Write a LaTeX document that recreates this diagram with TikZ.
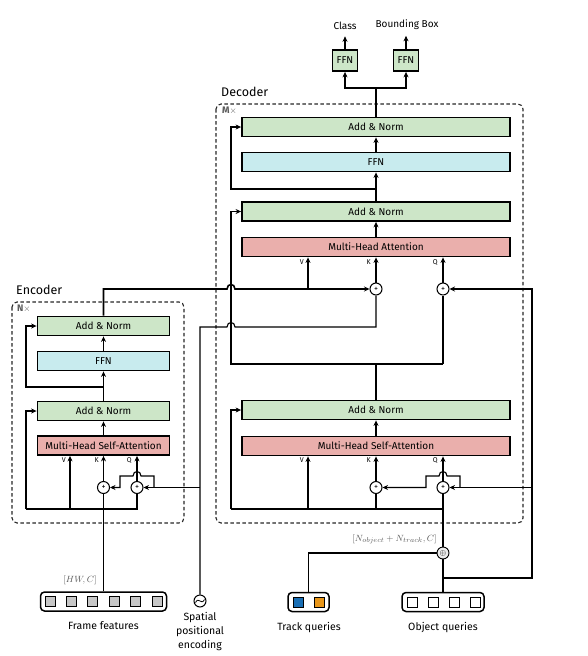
\documentclass[tikz,border=0pt]{standalone}
\usepackage{fontspec}
\setmainfont{Fira Sans}
\usetikzlibrary{arrows.meta,calc}
\definecolor{angreen}{RGB}{205,230,200}
\definecolor{ffncyan}{RGB}{200,235,238}
\definecolor{attred}{RGB}{234,175,172}
\definecolor{qblue}{RGB}{25,110,180}
\definecolor{qorange}{RGB}{232,150,25}
\definecolor{lblgray}{RGB}{90,90,90}
\tikzset{
 blk/.style={draw, line width=1.8pt, minimum height=19pt, inner sep=0pt, font=\fontsize{10}{11}\selectfont},
 an/.style={blk, fill=angreen},
 ffnb/.style={blk, fill=ffncyan},
 att/.style={blk, fill=attred},
 enc/.style={minimum width=132pt},
 dec/.style={minimum width=268pt},
 wire/.style={line width=1.6pt},
 twire/.style={line width=1.1pt},
 arr/.style={wire, -{Stealth[length=5.5pt,width=5pt]}},
 tarr/.style={twire, -{Stealth[length=5.5pt,width=5pt]}},
 pls/.style={circle, draw, line width=1pt, fill=white, minimum size=12pt, inner sep=0pt, font=\fontsize{8}{8}\selectfont},
 vkq/.style={font=\fontsize{7}{7}\selectfont, inner sep=1pt, anchor=east},
 featbox/.style={draw, line width=1.5pt, rounded corners=4pt, fill=white, minimum height=19pt, inner sep=0pt},
 sq/.style={draw, line width=0.8pt, minimum size=10pt, inner sep=0pt},
 lbl/.style={font=\fontsize{10.5}{14}\selectfont, inner sep=1pt, anchor=base},
 title/.style={font=\fontsize{12.5}{14}\selectfont, anchor=base west, inner sep=0pt},
 dbox/.style={draw=black!85, dash pattern=on 3.5pt off 2.5pt, line width=1.1pt, rounded corners=5pt},
 mlbl/.style={text=lblgray, font=\fontsize{9.5}{10}\selectfont, inner sep=0pt},
}
\begin{document}
\begin{tikzpicture}[x=1pt,y=-1pt]
\useasboundingbox (0,0) rectangle (588,656);
% ---------- frames ----------
\draw[dbox] (12,302) rectangle (184,523);
\draw[dbox] (216,104) rectangle (523,523);
\node[title] (enct) at (16,294) {Encoder};
\node[title] (dect) at (221,96) {Decoder};
\node[mlbl, anchor=base west] (nx) at (17,311.5) {$\mathbf{N}\times$};
\node[mlbl, anchor=base west] (mx) at (222,113.5) {$\mathbf{M}\times$};
% ---------- encoder ----------
\node[an, enc] (eAN2) at (103.5,326) {Add \& Norm};
\node[ffnb, enc] (eFFN) at (103.5,361) {FFN};
\node[an, enc] (eAN1) at (103.5,411) {Add \& Norm};
\node[att, enc] (eMHSA) at (103.5,445.5) {Multi-Head Self-Attention};
\node[pls] (eKp) at (103.5,487.5) {+};
\node[pls] (eQp) at (137,487.5) {+};
\node[vkq] at (67,460) {V};
\node[vkq] at (100,460) {K};
\node[vkq] at (133,460) {Q};
% ---------- decoder ----------
\node[an, dec] (dAN3) at (376,127) {Add \& Norm};
\node[ffnb, dec] (dFFN) at (376,162) {FFN};
\node[an, dec] (dAN2) at (376,211.5) {Add \& Norm};
\node[att, dec] (dMHA) at (376,247) {Multi-Head Attention};
\node[an, dec] (dAN1) at (376,410) {Add \& Norm};
\node[att, dec] (dMHSA) at (376,446) {Multi-Head Self-Attention};
\node[pls] (dKp) at (376,289) {+};
\node[pls] (dQp) at (443,289) {+};
\node[pls] (dKp2) at (376,487.5) {+};
\node[pls] (dQp2) at (443,487.5) {+};
\node[vkq] at (305,262) {V};
\node[vkq] at (372,262) {K};
\node[vkq] at (439,262) {Q};
\node[vkq] at (305,460) {V};
\node[vkq] at (372,460) {K};
\node[vkq] at (439,460) {Q};
% ---------- heads ----------
\node[an, minimum width=25pt, minimum height=21pt] (cFFN) at (345,60.5) {FFN};
\node[an, minimum width=25pt, minimum height=21pt] (bFFN) at (406,60.5) {FFN};
\node[lbl, font=\fontsize{10}{11}\selectfont] (cls) at (345,29) {Class};
\node[lbl, font=\fontsize{10}{11}\selectfont] (bbx) at (407,27.5) {Bounding Box};
% ---------- inputs ----------
\node[featbox, minimum width=126pt] (frame) at (103.5,601.5) {};
\foreach \i in {0,...,5} \node[sq, fill=black!22] at (50+21.4*\i,601.5) {};
\node[lbl] (framel) at (103.5,629) {Frame features};
\node[mlbl, anchor=base] (hwc) at (80,582) {$[HW,C]$};
\node[circle, draw, line width=1pt, fill=white, minimum size=12pt, inner sep=0pt] (pe) at (200,601) {};
\draw[line width=0.8pt] ([xshift=-4.5pt,yshift=-1.5pt]pe.center) .. controls ([xshift=-1pt,yshift=5pt]pe.center) and ([xshift=1pt,yshift=-5pt]pe.center) .. ([xshift=4.5pt,yshift=1.5pt]pe.center);
\node[lbl, align=center, anchor=north] (pel) at (200,611) {Spatial\\positional\\encoding};
\node[featbox, minimum width=41pt] (trk) at (308.5,602) {};
\node[sq, fill=qblue] at (298,602) {};
\node[sq, fill=qorange] at (319,602) {};
\node[lbl] (trkl) at (309,630) {Track queries};
\node[featbox, minimum width=82pt] (obj) at (443,602) {};
\foreach \i in {0,...,3} \node[sq, fill=white, line width=1pt] at (412.5+21*\i,602) {};
\node[lbl] (objl) at (443,630) {Object queries};
\node[circle, draw, line width=0.9pt, fill=black!8, minimum size=12pt, inner sep=0pt, font=\fontsize{8}{8}\selectfont] (cat) at (443,553) {$\oplus$};
\node[mlbl, anchor=base east] (catl) at (437,541) {$[N_{object}+N_{track},C]$};
% ---------- encoder wiring ----------
\coordinate (eBase) at (26,509);
\coordinate (eV) at (70,509);
\coordinate (eR2) at (26,387);
\draw[wire] (frame.north) -- (eKp.south);
\draw[wire] (eBase) -- (eBase -| eQp.south) -- (eQp.south);
\draw[arr] (eBase) |- (eAN1.west);
\draw[arr] (eV) -- (eV |- eMHSA.south);
\draw[arr] (eKp.north) -- (eMHSA.south);
\draw[arr] (eQp.north) -- (eQp.north |- eMHSA.south);
\draw[arr] (eMHSA.north) -- (eAN1.south);
\draw[arr] (eAN1.north) -- (eFFN.south);
\draw[arr] (eR2 -| eAN1.north) -- (eR2) |- (eAN2.west);
\draw[arr] (eFFN.north) -- (eAN2.south);
% positional encoding
\draw[twire] (pe.north) -- (200,327) -- (227,327) .. controls (227,321) and (235,321) .. (235,327) -| (dKp.south);
\draw[arr] (pe.north |- eQp.east) -- (eQp.east);
\draw[tarr] (154,487.5) -- (154,476) -- (141,476) .. controls (141,470) and (133,470) .. (133,476) -- (120,476) |- (eKp.east);
% memory
\draw[arr] (eAN2.north) |- (227,289) .. controls (227,283) and (235,283) .. (235,289) -- (dKp.west);
\coordinate (dVt) at (308,289);
\draw[tarr] (dVt) -- (dVt |- dMHA.south);
% ---------- decoder wiring ----------
\coordinate (split) at (376,88);
\draw[arr] (dAN3.north) -- (split) -| (cFFN.south);
\draw[arr] (split) -| (bFFN.south);
\draw[arr, shorten >=6pt] (cFFN.north) -- (cls.south);
\draw[arr, shorten >=5pt] (bFFN.north) -- (bFFN.north |- bbx.south);
\draw[arr] (dFFN.north) -- (dAN3.south);
\draw[arr] (dAN2.north) -- (dFFN.south);
\coordinate (dR3) at (231,189);
\draw[arr] (dR3 -| dAN2.north) -- (dR3) |- (dAN3.west);
\draw[arr] (dMHA.north) -- (dAN2.south);
\draw[arr] (dKp.north) -- (dKp.north |- dMHA.south);
\draw[arr] (dQp.north) -- (dQp.north |- dMHA.south);
\coordinate (dMid) at (231,364);
\draw[wire] (dAN1.north) -- (dAN1.north |- dMid);
\draw[wire] (dMid -| dQp.south) -- (dQp.south);
\draw[arr] (dMid -| dQp.south) -- (dMid) |- (dAN2.west);
\draw[arr] (dMHSA.north) -- (dAN1.south);
\coordinate (dBase) at (231,509);
\coordinate (dV2) at (308,509);
\draw[wire] (cat.north) -- (dQp2.south);
\draw[wire] (dBase -| dQp2.south) -- (dBase);
\draw[arr] (dBase) |- (dAN1.west);
\draw[arr] (dV2) -- (dV2 |- dMHSA.south);
\draw[wire] (dBase -| dKp2.south) -- (dKp2.south);
\draw[arr] (dKp2.north) -- (dKp2.north |- dMHSA.south);
\draw[arr] (dQp2.north) -- (dQp2.north |- dMHSA.south);
\draw[tarr] (460,487.5) -- (460,476) -- (447,476) .. controls (447,470) and (439,470) .. (439,476) -- (426,476) |- (dKp2.east);
% queries
\coordinate (oj) at (443,578);
\coordinate (rc) at (532,578);
\draw[wire] (obj.north) -- (cat.south);
\draw[wire] (cat.west) -| (trk.north);
\draw[arr] (oj) -- (rc) |- (dQp.east);
\draw[arr] (rc |- dQp2.east) -- (dQp2.east);
\end{tikzpicture}
\end{document}
